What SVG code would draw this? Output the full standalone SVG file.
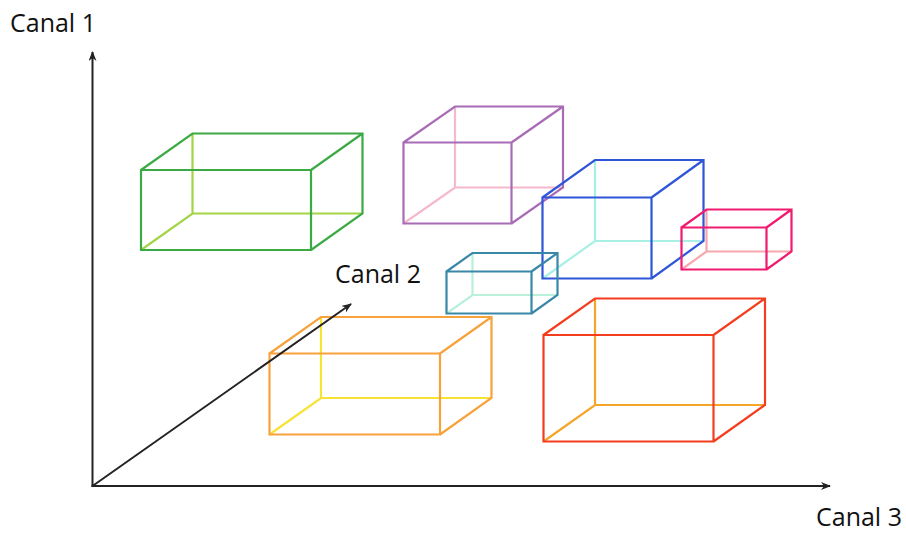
<svg xmlns="http://www.w3.org/2000/svg" width="906" height="534" viewBox="0 0 906 534">
<defs>
<marker id="arr" markerWidth="12" markerHeight="10" refX="9" refY="4" orient="auto" markerUnits="userSpaceOnUse">
<path d="M0,0 L10,4 L0,8 L3,4 Z" fill="#222"/>
</marker>
<style>
.v,.h{fill:none;stroke-width:2.2;stroke-linejoin:miter}
.ax{fill:none;stroke:#222;stroke-width:2}
.lbl{font-family:"Open Sans","Liberation Sans",sans-serif;font-size:25px;fill:#111}
</style>
</defs>
<rect width="906" height="534" fill="#fff"/>
<g id="box-green">
<path class="h" stroke="#a3d445" d="M141,250 L192.5,213.5 H362.5 M192.5,213.5 V133.5"/>
<path class="v" stroke="#3caa44" d="M141,170 H311 V250 H141 Z M141,170 L192.5,133.5 H362.5 V213.5 L311,250 M311,170 L362.5,133.5"/>
</g>
<g id="box-purple">
<path class="h" stroke="#f5b8cc" d="M403.5,223.5 L455,187.5 H563 M455,187.5 V106.5"/>
<path class="v" stroke="#a86bb5" d="M403.5,142.5 H511.5 V223.5 H403.5 Z M403.5,142.5 L455,106.5 H563 V187.5 L511.5,223.5 M511.5,142.5 L563,106.5"/>
</g>
<g id="box-blue">
<path class="h" stroke="#a8f0e6" d="M542.5,278.5 L595,241 H703.5 M595,241 V160"/>
<path class="v" stroke="#2f55d8" d="M542.5,197.5 H651.5 V278.5 H542.5 Z M542.5,197.5 L595,160 H703.5 V241 L651.5,278.5 M651.5,197.5 L703.5,160"/>
</g>
<g id="box-pink">
<path class="h" stroke="#f7a7ae" d="M681.5,269.5 L706.5,251.5 H791.5 M706.5,251.5 V209.5"/>
<path class="v" stroke="#f01a6e" d="M681.5,227.5 H766.5 V269.5 H681.5 Z M681.5,227.5 L706.5,209.5 H791.5 V251.5 L766.5,269.5 M766.5,227.5 L791.5,209.5"/>
</g>
<g id="box-teal">
<path class="h" stroke="#b8f0da" d="M446.5,313.5 L472.5,295 H557.5 M472.5,295 V253"/>
<path class="v" stroke="#3a88a8" d="M446.5,271.5 H531.5 V313.5 H446.5 Z M446.5,271.5 L472.5,253 H557.5 V295 L531.5,313.5 M531.5,271.5 L557.5,253"/>
</g>
<g id="box-orange">
<path class="h" stroke="#f7e334" d="M269.5,434.5 L321,398 H491.5 M321,398 V317"/>
<path class="v" stroke="#f7a23a" d="M269.5,353.5 H440 V434.5 H269.5 Z M269.5,353.5 L321,317 H491.5 V398 L440,434.5 M440,353.5 L491.5,317"/>
</g>
<g id="box-red">
<path class="h" stroke="#f5a528" d="M543.5,441.5 L595,405 H765 M595,405 V298.5"/>
<path class="v" stroke="#f43d1e" d="M543.5,335 H713.5 V441.5 H543.5 Z M543.5,335 L595,298.5 H765 V405 L713.5,441.5 M713.5,335 L765,298.5"/>
</g>
<g id="connectors">
<line class="ax" x1="92.5" y1="487" x2="92.5" y2="52" marker-end="url(#arr)"/>
<line class="ax" x1="91.5" y1="486" x2="830" y2="486" marker-end="url(#arr)"/>
<line class="ax" x1="92.5" y1="486" x2="351" y2="304" marker-end="url(#arr)"/>
</g>
<g id="labels">
<text class="lbl" x="10" y="32">Canal 1</text>
<text class="lbl" x="335" y="283">Canal 2</text>
<text class="lbl" x="816" y="526">Canal 3</text>
</g>
</svg>
